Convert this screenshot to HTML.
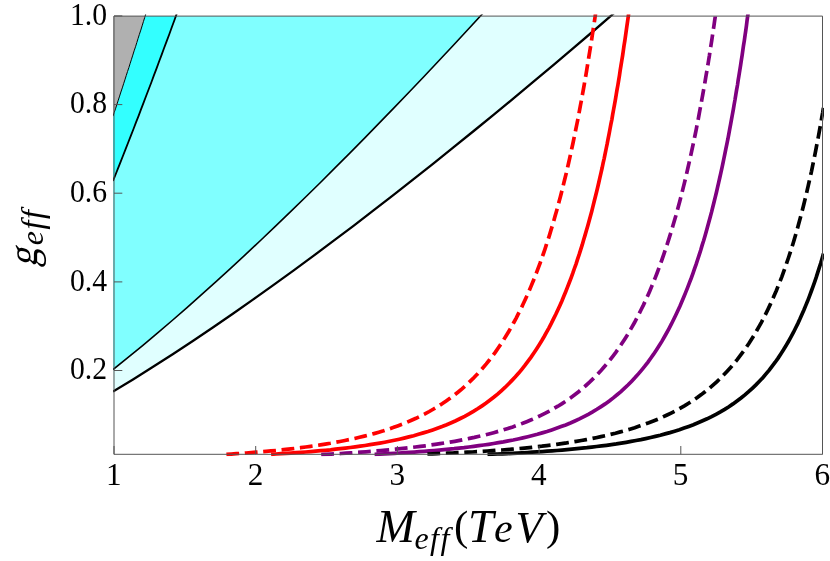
<!DOCTYPE html>
<html><head><meta charset="utf-8"><title>plot</title>
<style>html,body{margin:0;padding:0;background:#fff;}body{width:830px;height:561px;overflow:hidden;font-family:"Liberation Serif",serif;}svg{display:block;will-change:transform;}</style>
</head><body>
<svg width="830" height="561" viewBox="0 0 830 561">
<defs><clipPath id="c"><rect x="113.0" y="16.0" width="710.0" height="438.8"/></clipPath><clipPath id="c2"><rect x="113.0" y="14.4" width="710.9" height="441.9"/></clipPath></defs>
<rect width="830" height="561" fill="#fff"/>
<g clip-path="url(#c)">
<path d="M113.0 15.0 146.0 15.0 146.0 13.2 144.7 17.5 143.4 21.7 142.1 25.9 140.8 30.1 139.4 34.3 138.1 38.4 136.8 42.6 135.5 46.8 134.1 50.9 132.8 55.1 131.5 59.2 130.2 63.3 128.9 67.5 127.5 71.6 126.2 75.7 124.9 79.8 123.6 83.8 122.3 87.9 120.9 92.0 119.6 96.1 118.3 100.1 117.0 104.1 115.7 108.2 114.3 112.2 113.0 116.2 Z" fill="#b0b0b0"/>
<path d="M113.0 116.2 114.3 112.2 115.7 108.2 117.0 104.1 118.3 100.1 119.6 96.1 120.9 92.0 122.3 87.9 123.6 83.8 124.9 79.8 126.2 75.7 127.5 71.6 128.9 67.5 130.2 63.3 131.5 59.2 132.8 55.1 134.1 50.9 135.5 46.8 136.8 42.6 138.1 38.4 139.4 34.3 140.8 30.1 142.1 25.9 143.4 21.7 144.7 17.5 146.0 13.2 176.9 13.2 174.4 20.2 171.8 27.2 169.3 34.2 166.7 41.1 164.1 48.0 161.6 54.9 159.0 61.8 156.5 68.6 153.9 75.4 151.4 82.2 148.8 89.0 146.2 95.7 143.7 102.4 141.1 109.1 138.6 115.8 136.0 122.4 133.5 129.0 130.9 135.6 128.3 142.2 125.8 148.7 123.2 155.2 120.7 161.7 118.1 168.1 115.6 174.5 113.0 180.9 Z" fill="#33ffff"/>
<path d="M113.0 180.9 115.6 174.5 118.1 168.1 120.7 161.7 123.2 155.2 125.8 148.7 128.3 142.2 130.9 135.6 133.5 129.0 136.0 122.4 138.6 115.8 141.1 109.1 143.7 102.4 146.2 95.7 148.8 89.0 151.4 82.2 153.9 75.4 156.5 68.6 159.0 61.8 161.6 54.9 164.1 48.0 166.7 41.1 169.3 34.2 171.8 27.2 174.4 20.2 176.9 13.2 483.0 13.2 468.2 29.3 453.4 45.2 438.6 61.0 423.8 76.7 409.0 92.2 394.2 107.6 379.4 122.9 364.6 138.1 349.8 153.1 335.0 167.9 320.2 182.7 305.4 197.2 290.6 211.6 275.8 225.9 261.0 240.0 246.2 253.9 231.4 267.6 216.6 281.1 201.8 294.4 187.0 307.6 172.2 320.5 157.4 333.1 142.6 345.6 127.8 357.7 113.0 369.6 Z" fill="#80ffff"/>
<path d="M113.0 369.6 127.8 357.7 142.6 345.6 157.4 333.1 172.2 320.5 187.0 307.6 201.8 294.4 216.6 281.1 231.4 267.6 246.2 253.9 261.0 240.0 275.8 225.9 290.6 211.6 305.4 197.2 320.2 182.7 335.0 167.9 349.8 153.1 364.6 138.1 379.4 122.9 394.2 107.6 409.0 92.2 423.8 76.7 438.6 61.0 453.4 45.2 468.2 29.3 483.0 13.2 614.0 13.2 594.0 30.5 573.9 47.6 553.9 64.6 533.8 81.4 513.8 98.1 493.8 114.6 473.7 131.0 453.7 147.2 433.6 163.3 413.6 179.2 393.6 194.9 373.5 210.4 353.5 225.8 333.4 240.9 313.4 255.9 293.4 270.6 273.3 285.1 253.3 299.4 233.2 313.5 213.2 327.2 193.2 340.7 173.1 354.0 153.1 366.8 133.0 379.4 113.0 391.6 Z" fill="#e0ffff"/>
</g>
<g clip-path="url(#c2)" fill="none">
<path d="M113.0 116.2 114.3 112.2 115.7 108.2 117.0 104.1 118.3 100.1 119.6 96.1 120.9 92.0 122.3 87.9 123.6 83.8 124.9 79.8 126.2 75.7 127.5 71.6 128.9 67.5 130.2 63.3 131.5 59.2 132.8 55.1 134.1 50.9 135.5 46.8 136.8 42.6 138.1 38.4 139.4 34.3 140.8 30.1 142.1 25.9 143.4 21.7 144.7 17.5 146.0 13.2" stroke="#000" stroke-width="1.0"/>
<path d="M113.0 180.9 115.6 174.5 118.1 168.1 120.7 161.7 123.2 155.2 125.8 148.7 128.3 142.2 130.9 135.6 133.5 129.0 136.0 122.4 138.6 115.8 141.1 109.1 143.7 102.4 146.2 95.7 148.8 89.0 151.4 82.2 153.9 75.4 156.5 68.6 159.0 61.8 161.6 54.9 164.1 48.0 166.7 41.1 169.3 34.2 171.8 27.2 174.4 20.2 176.9 13.2" stroke="#000" stroke-width="1.8"/>
<path d="M113.0 369.6 127.8 357.7 142.6 345.6 157.4 333.1 172.2 320.5 187.0 307.6 201.8 294.4 216.6 281.1 231.4 267.6 246.2 253.9 261.0 240.0 275.8 225.9 290.6 211.6 305.4 197.2 320.2 182.7 335.0 167.9 349.8 153.1 364.6 138.1 379.4 122.9 394.2 107.6 409.0 92.2 423.8 76.7 438.6 61.0 453.4 45.2 468.2 29.3 483.0 13.2" stroke="#000" stroke-width="1.6"/>
<path d="M113.0 391.6 133.0 379.4 153.1 366.8 173.1 354.0 193.2 340.7 213.2 327.2 233.2 313.5 253.3 299.4 273.3 285.1 293.4 270.6 313.4 255.9 333.4 240.9 353.5 225.8 373.5 210.4 393.6 194.9 413.6 179.2 433.6 163.3 453.7 147.2 473.7 131.0 493.8 114.6 513.8 98.1 533.8 81.4 553.9 64.6 573.9 47.6 594.0 30.5 614.0 13.2" stroke="#000" stroke-width="2.3"/>
<path d="M226.4 454.4 231.3 454.1 236.3 453.7 241.3 453.4 246.2 453.0 251.2 452.6 256.2 452.2 261.1 451.8 266.1 451.4 271.0 450.9 276.0 450.5 280.9 449.9 285.9 449.4 290.8 448.9 295.8 448.3 300.7 447.7 305.7 447.0 310.6 446.3 315.5 445.6 320.4 444.9 325.3 444.1 330.3 443.3 335.2 442.4 340.0 441.5 344.9 440.5 349.8 439.5 354.7 438.5 359.5 437.3 364.4 436.1 369.2 434.9 374.0 433.6 378.8 432.2 383.5 430.8 388.3 429.2 393.0 427.6 397.6 425.9 402.3 424.2 406.9 422.3 411.5 420.3 416.0 418.3 420.5 416.1 424.9 413.9 429.3 411.5 433.6 409.0 437.9 406.5 442.1 403.8 446.2 401.0 450.3 398.1 454.3 395.1 458.2 392.0 462.0 388.8 465.7 385.5 469.3 382.1 472.9 378.7 476.4 375.1 479.8 371.4 483.0 367.7 486.3 363.9 489.4 360.0 492.4 356.1 495.4 352.1 498.2 348.0 501.0 343.9 503.7 339.7 506.3 335.5 508.9 331.2 511.4 326.9 513.8 322.5 516.2 318.1 518.4 313.7 520.7 309.3 522.8 304.8 524.9 300.3 527.0 295.7 529.0 291.2 530.9 286.6 532.8 282.0 534.7 277.4 536.5 272.7 538.2 268.1 540.0 263.4 541.6 258.7 543.3 254.0 544.9 249.3 546.4 244.6 548.0 239.9 549.5 235.1 550.9 230.4 552.4 225.6 553.8 220.8 555.1 216.0 556.5 211.2 557.8 206.4 559.1 201.6 560.4 196.8 561.6 192.0 562.8 187.2 564.0 182.3 565.2 177.5 566.4 172.7 567.5 167.8 568.6 163.0 569.7 158.1 570.8 153.2 571.8 148.4 572.9 143.5 573.9 138.6 574.9 133.8 575.9 128.9 576.9 124.0 577.9 119.1 578.8 114.2 579.7 109.4 580.6 104.5 581.6 99.6 582.4 94.7 583.3 89.8 584.2 84.9 585.0 80.0 585.9 75.1 586.7 70.2 587.5 65.2 588.3 60.3 589.1 55.4 589.9 50.5 590.7 45.6 591.5 40.7 592.2 35.8 593.0 30.8 593.7 25.9 594.5 21.0 595.2 16.1 595.9 11.1 596.6 6.2 597.3 1.3 598.0 -3.7 598.7 -8.6 599.3 -13.5 600.0 -18.4 600.7 -23.4 601.3 -28.3 601.9 -33.3 602.6 -38.2" stroke="#ff0000" stroke-width="3.7" stroke-dasharray="12.8 5.65"/>
<path d="M271.1 454.3 276.1 454.0 281.1 453.7 286.0 453.4 291.0 453.1 295.9 452.7 300.9 452.4 305.8 452.0 310.8 451.6 315.7 451.2 320.7 450.7 325.6 450.3 330.6 449.8 335.5 449.2 340.4 448.7 345.4 448.1 350.3 447.5 355.2 446.9 360.2 446.2 365.1 445.5 370.0 444.7 374.9 443.9 379.8 443.1 384.7 442.2 389.5 441.3 394.4 440.3 399.3 439.2 404.1 438.1 408.9 436.9 413.7 435.7 418.5 434.3 423.3 432.9 428.0 431.5 432.7 429.9 437.4 428.2 442.1 426.5 446.7 424.7 451.3 422.7 455.8 420.7 460.3 418.5 464.7 416.3 469.1 413.9 473.4 411.4 477.6 408.8 481.7 406.1 485.8 403.3 489.8 400.3 493.7 397.3 497.6 394.1 501.3 390.8 505.0 387.5 508.5 384.0 512.0 380.4 515.4 376.8 518.7 373.1 521.8 369.3 524.9 365.4 527.9 361.4 530.9 357.4 533.7 353.3 536.4 349.2 539.1 345.0 541.7 340.8 544.2 336.5 546.6 332.1 549.0 327.8 551.3 323.4 553.5 318.9 555.7 314.5 557.8 310.0 559.9 305.4 561.9 300.9 563.8 296.3 565.7 291.7 567.5 287.1 569.3 282.5 571.1 277.8 572.8 273.2 574.4 268.5 576.1 263.8 577.6 259.1 579.2 254.4 580.7 249.6 582.2 244.9 583.6 240.1 585.0 235.4 586.4 230.6 587.8 225.8 589.1 221.0 590.4 216.2 591.7 211.4 592.9 206.6 594.1 201.8 595.3 197.0 596.5 192.2 597.7 187.3 598.8 182.5 599.9 177.7 601.0 172.8 602.1 168.0 603.1 163.1 604.2 158.3 605.2 153.4 606.2 148.5 607.2 143.7 608.1 138.8 609.1 133.9 610.0 129.0 610.9 124.2 611.9 119.3 612.7 114.4 613.6 109.5 614.5 104.6 615.4 99.7 616.2 94.8 617.0 89.9 617.9 85.0 618.7 80.1 619.5 75.2 620.2 70.3 621.0 65.4 621.8 60.5 622.6 55.6 623.3 50.7 624.0 45.8 624.8 40.9 625.5 35.9 626.2 31.0 626.9 26.1 627.6 21.2 628.3 16.3 629.0 11.4 629.6 6.4 630.3 1.5 630.9 -3.4 631.6 -8.3 632.2 -13.3 632.9 -18.2 633.5 -23.1 634.1 -28.0 634.7 -33.0 635.3 -37.9" stroke="#ff0000" stroke-width="3.7"/>
<path d="M321.2 454.6 326.1 454.4 331.1 454.1 336.1 453.8 341.0 453.5 346.0 453.2 351.0 452.9 355.9 452.5 360.9 452.2 365.9 451.8 370.8 451.4 375.8 451.0 380.8 450.6 385.7 450.1 390.7 449.7 395.6 449.2 400.6 448.7 405.5 448.2 410.5 447.6 415.4 447.0 420.4 446.4 425.3 445.8 430.2 445.1 435.2 444.4 440.1 443.7 445.0 442.9 449.9 442.1 454.8 441.3 459.7 440.4 464.6 439.4 469.5 438.4 474.4 437.4 479.2 436.3 484.1 435.2 488.9 434.0 493.7 432.7 498.5 431.3 503.3 429.9 508.0 428.4 512.7 426.9 517.4 425.2 522.1 423.5 526.7 421.7 531.3 419.8 535.9 417.8 540.4 415.6 544.9 413.4 549.3 411.1 553.6 408.7 557.9 406.2 562.1 403.6 566.3 400.8 570.4 398.0 574.4 395.0 578.3 392.0 582.2 388.8 585.9 385.5 589.6 382.2 593.2 378.7 596.7 375.2 600.1 371.6 603.4 367.8 606.6 364.1 609.8 360.2 612.8 356.3 615.8 352.3 618.7 348.2 621.5 344.1 624.2 339.9 626.9 335.7 629.4 331.5 631.9 327.1 634.4 322.8 636.7 318.4 639.0 314.0 641.2 309.5 643.4 305.1 645.5 300.6 647.6 296.0 649.6 291.5 651.5 286.9 653.4 282.3 655.3 277.6 657.1 273.0 658.8 268.4 660.5 263.7 662.2 259.0 663.8 254.3 665.4 249.6 667.0 244.8 668.5 240.1 670.0 235.4 671.5 230.6 672.9 225.8 674.3 221.0 675.7 216.3 677.0 211.5 678.3 206.7 679.6 201.9 680.9 197.0 682.1 192.2 683.3 187.4 684.5 182.6 685.7 177.7 686.8 172.9 687.9 168.0 689.0 163.2 690.1 158.3 691.2 153.4 692.2 148.6 693.3 143.7 694.3 138.8 695.3 134.0 696.3 129.1 697.2 124.2 698.2 119.3 699.1 114.4 700.0 109.5 701.0 104.6 701.8 99.7 702.7 94.8 703.6 89.9 704.5 85.0 705.3 80.1 706.1 75.2 707.0 70.3 707.8 65.4 708.6 60.5 709.4 55.6 710.1 50.6 710.9 45.7 711.7 40.8 712.4 35.9 713.1 31.0 713.9 26.0 714.6 21.1 715.3 16.2 716.0 11.3 716.7 6.3 717.4 1.4 718.1 -3.5 718.7 -8.5 719.4 -13.4 720.1 -18.3 720.7 -23.3 721.3 -28.2 722.0 -33.1 722.6 -38.1" stroke="#800080" stroke-width="3.7" stroke-dasharray="12.8 5.65"/>
<path d="M374.6 454.4 379.6 454.2 384.5 453.9 389.5 453.6 394.5 453.3 399.5 453.0 404.4 452.7 409.4 452.4 414.4 452.1 419.3 451.7 424.3 451.3 429.3 450.9 434.2 450.5 439.2 450.1 444.1 449.6 449.1 449.2 454.1 448.7 459.0 448.1 464.0 447.6 468.9 447.0 473.8 446.4 478.8 445.7 483.7 445.0 488.6 444.3 493.6 443.5 498.5 442.7 503.4 441.9 508.3 440.9 513.2 440.0 518.0 439.0 522.9 437.9 527.8 436.7 532.6 435.5 537.4 434.3 542.2 432.9 547.0 431.5 551.7 429.9 556.4 428.3 561.1 426.6 565.7 424.9 570.4 423.0 574.9 421.0 579.4 418.9 583.9 416.6 588.3 414.3 592.6 411.9 596.9 409.3 601.1 406.6 605.2 403.9 609.3 401.0 613.3 397.9 617.1 394.8 620.9 391.6 624.6 388.2 628.2 384.8 631.7 381.2 635.1 377.6 638.4 373.9 641.6 370.1 644.8 366.2 647.8 362.3 650.7 358.2 653.6 354.2 656.4 350.0 659.1 345.8 661.7 341.6 664.2 337.3 666.6 333.0 669.0 328.6 671.3 324.2 673.5 319.7 675.7 315.2 677.8 310.7 679.9 306.2 681.9 301.6 683.8 297.0 685.7 292.4 687.5 287.8 689.3 283.1 691.1 278.5 692.8 273.8 694.4 269.1 696.1 264.4 697.6 259.7 699.2 254.9 700.7 250.2 702.1 245.4 703.6 240.7 705.0 235.9 706.4 231.1 707.7 226.3 709.0 221.5 710.3 216.7 711.6 211.9 712.8 207.0 714.0 202.2 715.2 197.4 716.4 192.5 717.5 187.7 718.6 182.8 719.7 178.0 720.8 173.1 721.9 168.2 722.9 163.4 723.9 158.5 724.9 153.6 725.9 148.7 726.9 143.8 727.9 139.0 728.8 134.1 729.7 129.2 730.6 124.3 731.5 119.4 732.4 114.5 733.3 109.6 734.1 104.7 735.0 99.8 735.8 94.8 736.6 89.9 737.5 85.0 738.2 80.1 739.0 75.2 739.8 70.3 740.6 65.3 741.3 60.4 742.1 55.5 742.8 50.6 743.5 45.6 744.3 40.7 745.0 35.8 745.7 30.9 746.4 25.9 747.0 21.0 747.7 16.1 748.4 11.1 749.0 6.2 749.7 1.2 750.3 -3.7 751.0 -8.6 751.6 -13.6 752.2 -18.5 752.8 -23.5 753.4 -28.4 754.0 -33.3 754.6 -38.3" stroke="#800080" stroke-width="3.7"/>
<path d="M427.4 454.0 432.4 453.8 437.4 453.6 442.4 453.4 447.4 453.2 452.4 453.0 457.3 452.7 462.3 452.5 467.3 452.2 472.3 452.0 477.3 451.7 482.2 451.4 487.2 451.0 492.2 450.7 497.2 450.3 502.1 450.0 507.1 449.6 512.1 449.2 517.1 448.7 522.0 448.3 527.0 447.8 531.9 447.3 536.9 446.7 541.9 446.2 546.8 445.6 551.8 445.0 556.7 444.3 561.6 443.6 566.6 442.9 571.5 442.1 576.4 441.3 581.3 440.5 586.3 439.6 591.2 438.7 596.0 437.7 600.9 436.6 605.8 435.6 610.6 434.4 615.5 433.2 620.3 431.9 625.1 430.6 629.9 429.2 634.7 427.7 639.4 426.1 644.1 424.5 648.8 422.8 653.4 421.0 658.0 419.1 662.6 417.1 667.1 415.0 671.6 412.8 676.1 410.5 680.4 408.1 684.8 405.6 689.0 403.0 693.2 400.3 697.3 397.5 701.3 394.6 705.3 391.5 709.2 388.4 713.0 385.1 716.7 381.8 720.3 378.4 723.8 374.8 727.2 371.2 730.6 367.5 733.8 363.7 737.0 359.8 740.0 355.9 743.0 351.9 745.9 347.8 748.7 343.7 751.4 339.5 754.0 335.3 756.5 331.0 759.0 326.6 761.4 322.3 763.7 317.9 766.0 313.4 768.2 308.9 770.3 304.4 772.3 299.9 774.3 295.3 776.3 290.7 778.1 286.1 780.0 281.4 781.8 276.8 783.5 272.1 785.2 267.4 786.8 262.7 788.4 258.0 790.0 253.2 791.5 248.5 793.0 243.7 794.4 238.9 795.8 234.2 797.2 229.4 798.5 224.6 799.8 219.8 801.1 214.9 802.4 210.1 803.6 205.3 804.8 200.4 806.0 195.6 807.1 190.7 808.2 185.9 809.3 181.0 810.4 176.1 811.5 171.3 812.5 166.4 813.5 161.5 814.5 156.6 815.5 151.7 816.4 146.8 817.4 141.9 818.3 137.0 819.2 132.1 820.1 127.2 821.0 122.3 821.8 117.4 822.7 112.5 823.5 107.5" stroke="#000000" stroke-width="3.7" stroke-dasharray="12.8 5.65"/>
<path d="M487.5 454.4 492.5 454.2 497.5 454.0 502.4 453.8 507.4 453.6 512.4 453.3 517.3 453.1 522.3 452.8 527.3 452.5 532.2 452.2 537.2 451.9 542.2 451.6 547.1 451.2 552.1 450.9 557.0 450.5 562.0 450.1 567.0 449.6 571.9 449.2 576.9 448.7 581.8 448.2 586.8 447.7 591.7 447.1 596.6 446.5 601.6 445.9 606.5 445.3 611.4 444.6 616.4 443.9 621.3 443.1 626.2 442.3 631.1 441.4 636.0 440.5 640.9 439.6 645.7 438.6 650.6 437.5 655.4 436.4 660.3 435.2 665.1 433.9 669.9 432.6 674.6 431.2 679.4 429.7 684.1 428.1 688.8 426.4 693.4 424.7 698.0 422.8 702.6 420.8 707.1 418.8 711.6 416.6 716.0 414.3 720.4 411.9 724.7 409.4 728.9 406.7 733.0 403.9 737.0 401.0 741.0 398.0 744.9 394.9 748.6 391.7 752.3 388.3 755.9 384.9 759.4 381.3 762.8 377.7 766.0 373.9 769.2 370.1 772.2 366.1 775.2 362.2 778.1 358.1 780.8 354.0 783.5 349.8 786.1 345.5 788.6 341.2 791.0 336.9 793.4 332.5 795.6 328.0 797.8 323.6 799.9 319.1 801.9 314.5 803.9 310.0 805.8 305.4 807.7 300.8 809.5 296.1 811.2 291.5 812.9 286.8 814.6 282.1 816.2 277.4 817.7 272.6 819.2 267.9 820.7 263.2 822.1 258.4 823.5 253.6" stroke="#000000" stroke-width="3.7"/>
</g>
<path d="M114.0 16.1 H822.5 V454.3 H114.0 Z M114.0 454.3 v-8.3 M255.7 454.3 v-8.3 M397.4 454.3 v-8.3 M539.1 454.3 v-8.3 M680.8 454.3 v-8.3 M822.5 454.3 v-8.3 M114.0 370.5 h8.3 M114.0 281.9 h8.3 M114.0 193.2 h8.3 M114.0 104.6 h8.3 M114.0 15.9 h8.3" stroke="#555" stroke-width="1" fill="none"/>
<g font-family="Liberation Serif" fill="#000">
<text transform="translate(113.8 484.6) scale(1.04 1.03)" font-size="30" text-anchor="middle">1</text>
<text transform="translate(255.5 484.6) scale(1.04 1.03)" font-size="30" text-anchor="middle">2</text>
<text transform="translate(397.2 484.6) scale(1.04 1.03)" font-size="30" text-anchor="middle">3</text>
<text transform="translate(538.9 484.6) scale(1.04 1.03)" font-size="30" text-anchor="middle">4</text>
<text transform="translate(680.6 484.6) scale(1.04 1.03)" font-size="30" text-anchor="middle">5</text>
<text transform="translate(822.3 484.6) scale(1.04 1.03)" font-size="30" text-anchor="middle">6</text>
<text transform="translate(107.1 379.1) scale(0.99 1.04)" font-size="30" text-anchor="end">0.2</text>
<text transform="translate(107.1 290.5) scale(0.99 1.04)" font-size="30" text-anchor="end">0.4</text>
<text transform="translate(107.1 201.8) scale(0.99 1.04)" font-size="30" text-anchor="end">0.6</text>
<text transform="translate(107.1 113.2) scale(0.99 1.04)" font-size="30" text-anchor="end">0.8</text>
<text transform="translate(107.1 24.5) scale(0.99 1.04)" font-size="30" text-anchor="end">1.0</text>
<g font-style="italic">
<text x="376.4" y="542" font-size="46">M</text>
<text x="414.4" y="549.2" font-size="32" letter-spacing="1.5">eff</text>
<text x="468" y="542" font-size="46">T</text>
<text x="494" y="542" font-size="42">e</text>
<text x="515.6" y="542" font-size="44.5">V</text>
<text transform="translate(37 267.2) rotate(-90) skewX(-13) scale(0.9 1)" font-size="42" font-style="normal">g</text>
<text transform="translate(43.4 245.2) rotate(-90)" font-size="32" letter-spacing="1.5">eff</text>
</g>
<text x="453.9" y="540.4" font-size="43">(</text>
<text x="545.9" y="540.4" font-size="43">)</text>
</g>
</svg>
</body></html>
